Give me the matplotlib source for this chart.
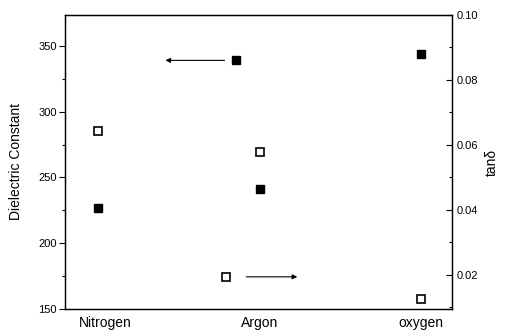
import numpy as np
import matplotlib.pyplot as plt
import matplotlib.transforms as mtransforms
from matplotlib.ticker import MultipleLocator

plt.rcParams['font.family'] = ['Liberation Sans', 'DejaVu Sans']

gases = ["Nitrogen", "Argon", "oxygen"]
gas_pos = [1, 2, 3]

# dielectric constant (filled squares, left axis)
x_eps = [1.0, 2.0, 1.855, 3.0]
eps = [227, 241, 339, 344]

# loss tangent (open squares, right axis)
x_tan = [1.0, 2.0, 1.79, 3.0]
tan_d = [0.0643, 0.0578, 0.0194, 0.0126]

fig = plt.figure(figsize=(5.05, 3.31), dpi=100)
ax = fig.add_axes([0.1287, 0.0665, 0.7663, 0.8882])
ax2 = ax.twinx()

ax.plot(x_eps, eps, ls="none", marker="s", ms=6, color="black", mec="black")
ax2.plot(x_tan, tan_d, ls="none", marker="s", ms=6, mfc="white", mec="black", mew=1.2)

ax.set_xlim(0.796, 3.19)
ax.set_ylim(150, 373.5)
ax2.set_ylim(0.0095, 0.10)

ax.set_xticks(gas_pos)
ax.set_xticklabels(gases, fontsize=10)
ax.tick_params(axis="x", length=0, pad=5)
# nudge the first category label a little to the right
lbl = ax.get_xticklabels()[0]
lbl.set_transform(lbl.get_transform() + mtransforms.ScaledTranslation(0.07, 0, fig.dpi_scale_trans))

ax.yaxis.set_major_locator(MultipleLocator(50))
ax.yaxis.set_minor_locator(MultipleLocator(25))
ax.tick_params(axis="y", which="major", direction="out", length=4, width=0.8, labelsize=8, pad=2)
ax.tick_params(axis="y", which="minor", direction="out", length=2.5, width=0.8)

ax2.yaxis.set_major_locator(MultipleLocator(0.02))
ax2.yaxis.set_minor_locator(MultipleLocator(0.01))
ax2.yaxis.set_major_formatter(plt.FormatStrFormatter("%.2f"))
ax2.tick_params(axis="y", which="major", direction="in", length=4, width=0.8, labelsize=8, pad=3)
ax2.tick_params(axis="y", which="minor", direction="in", length=2.5, width=0.8)

for a in (ax, ax2):
    for s in a.spines.values():
        s.set_linewidth(0.9)

ax.set_ylabel("Dielectric Constant", fontsize=10, labelpad=11)
ax2.set_ylabel("tanδ", fontsize=10, labelpad=5)

# arrows pointing to the axis each series belongs to
ax.annotate("", xy=(1.40, eps[2]), xytext=(1.80, eps[2]),
            arrowprops=dict(arrowstyle="-|>", lw=0.8, color="black", mutation_scale=7))
ax2.annotate("", xy=(2.25, tan_d[2]), xytext=(1.90, tan_d[2]),
             arrowprops=dict(arrowstyle="-|>", lw=0.8, color="black", mutation_scale=7))

fig.savefig("out.png", dpi=100)
